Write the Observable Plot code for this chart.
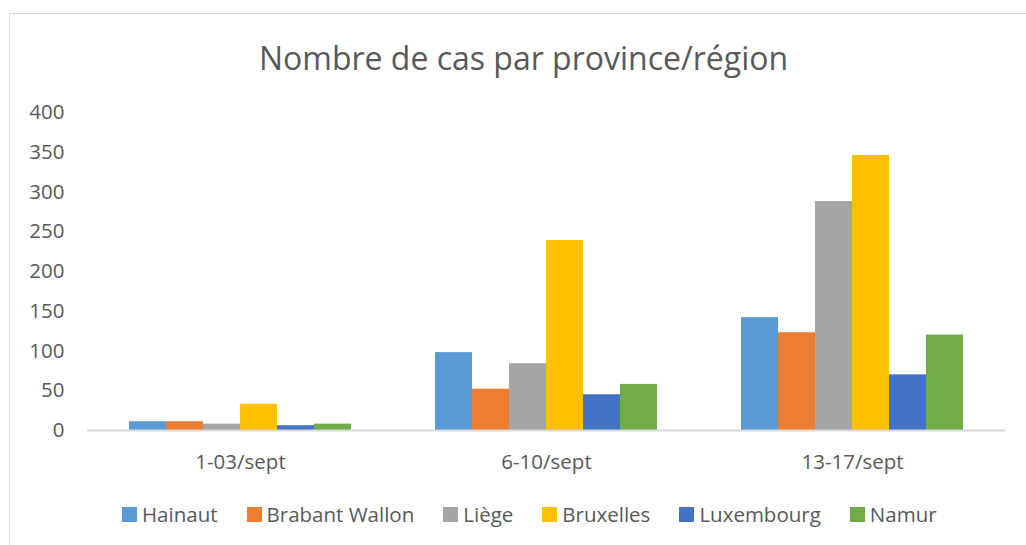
<!DOCTYPE html>
<html>
<head>
<meta charset="utf-8">
<script src="https://cdn.jsdelivr.net/npm/d3@7"></script>
<script src="https://cdn.jsdelivr.net/npm/@observablehq/plot@0.6"></script>
<style>
  html, body { margin: 0; padding: 0; background: #fff; }
  body { width: 1026px; height: 545px; position: relative; overflow: hidden; font-family: "Open Sans", sans-serif; color: #595959; }
  #frame { position: absolute; left: 9px; top: 13px; width: 1100px; height: 600px; border: 1.5px solid #d9d9d9; box-sizing: border-box; }
  #title { position: absolute; left: 0; top: 33px; width: 1047px; text-align: center; font-size: 32px; line-height: 50px; color: #595959; }
  #chart { position: absolute; left: 0; top: 90px; }
  #legend { position: absolute; left: 122px; top: 500px; display: flex; align-items: center; gap: 29px; font-size: 20.5px; line-height: 28px; }
  .item { display: flex; align-items: center; gap: 5px; }
  .sw { width: 15px; height: 15px; display: inline-block; }
</style>
</head>
<body>
<div id="frame"></div>
<div id="title">Nombre de cas par province/région</div>
<div id="chart"></div>
<div id="legend"></div>
<script>
const periods = ["1-03/sept", "6-10/sept", "13-17/sept"];
const provinces = ["Hainaut", "Brabant Wallon", "Liège", "Bruxelles", "Luxembourg", "Namur"];
const colors = ["#5B9BD5", "#ED7D31", "#A5A5A5", "#FFC000", "#4472C4", "#70AD47"];
const hainaut = [11, 98, 142];
const brabantWallon = [11, 52, 123];
const liege = [8, 84, 288];
const bruxelles = [33, 239, 346];
const luxembourg = [6, 45, 70];
const namur = [8, 58, 120];
const yTicks = [0, 50, 100, 150, 200, 250, 300, 350, 400];

const seriesValues = [hainaut, brabantWallon, liege, bruxelles, luxembourg, namur];
const rows = [];
periods.forEach((p, i) => {
  provinces.forEach((prov, j) => {
    rows.push({period: p, province: prov, value: seriesValues[j][i]});
  });
});

const chart = Plot.plot({
  width: 1026,
  height: 400,
  marginLeft: 86,
  marginRight: 21,
  marginTop: 22,
  marginBottom: 60,
  style: {fontFamily: "Open Sans, sans-serif", fontSize: "20.5px", color: "#595959", background: "transparent", overflow: "visible"},
  fx: {domain: periods, padding: 0, axis: "bottom", tickSize: 0, tickPadding: 24, label: null},
  x: {domain: provinces, paddingInner: 0, paddingOuter: 1.08, axis: null},
  y: {domain: [0, 400], ticks: yTicks, tickSize: 0, tickPadding: 23, label: null},
  color: {domain: provinces, range: colors},
  marks: [
    Plot.barY(rows, {fx: "period", x: "province", y: "value", fill: "province"}),
    Plot.ruleY([0], {stroke: "#d9d9d9", strokeWidth: 2})
  ]
});
document.getElementById("chart").appendChild(chart);

const legend = document.getElementById("legend");
provinces.forEach((p, i) => {
  const item = document.createElement("div");
  item.className = "item";
  const sw = document.createElement("span");
  sw.className = "sw";
  sw.style.background = colors[i];
  const t = document.createElement("span");
  t.textContent = p;
  item.appendChild(sw);
  item.appendChild(t);
  legend.appendChild(item);
});
</script>
</body>
</html>
